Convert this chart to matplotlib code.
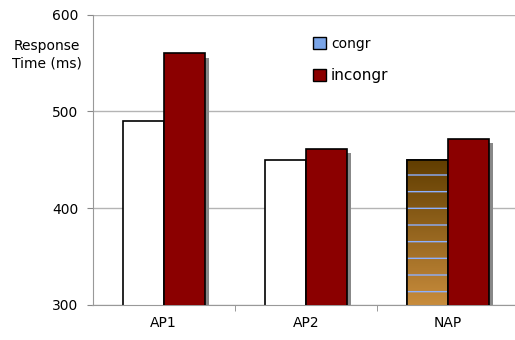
import numpy as np
import matplotlib
matplotlib.use("Agg")
import matplotlib.pyplot as plt
import matplotlib.patheffects as pe
from matplotlib.colors import LinearSegmentedColormap
from matplotlib.patches import Patch

# Data
categories = ['AP1', 'AP2', 'NAP']
congr = [490, 450, 450]
incongr = [560, 461, 472]
series_names = ['congr', 'incongr']

plt.rcParams['font.family'] = 'DejaVu Sans'

fig = plt.figure(figsize=(5.15, 3.4), dpi=100)
ax = fig.add_axes([92.5 / 515, 1 - 305 / 340, (519 - 92.5) / 515, (305 - 14.7) / 340])

x = np.arange(len(categories))
w = 0.288
shadow = [pe.SimplePatchShadow(offset=(3, -3), shadow_rgbFace='#888888', alpha=1.0), pe.Normal()]

bars_c = ax.bar(x - w / 2, congr, w, color='white', edgecolor='black', linewidth=1.2, zorder=2)
bars_i = ax.bar(x + w / 2, incongr, w, color='#8b0000', edgecolor='black', linewidth=1.2, zorder=3)
for b in list(bars_c) + list(bars_i):
    b.set_path_effects(shadow)

# gradient fill for the NAP congr bar
nap = bars_c[2]
brown = LinearSegmentedColormap.from_list('brown', ['#603d00', '#c88c3c'])
grad = np.linspace(0, 1, 256).reshape(-1, 1)
img = ax.imshow(grad, cmap=brown, aspect='auto', origin='upper',
                extent=(nap.get_x(), nap.get_x() + nap.get_width(), 300, nap.get_height()),
                zorder=2.1)
img.set_clip_path(nap)
ax.bar(nap.get_x() + nap.get_width() / 2, nap.get_height(), w, facecolor='none',
       edgecolor='#8cb0ff', linewidth=0, hatch='-', zorder=2.2)
ax.bar(nap.get_x() + nap.get_width() / 2, nap.get_height(), w, facecolor='none',
       edgecolor='black', linewidth=1.2, zorder=2.3)

ax.set_xlim(-0.5, 2.5)
ax.set_ylim(300, 600)
ax.set_yticks([300, 400, 500, 600])
ax.set_xticks(x)
ax.set_xticklabels(categories)
ax.set_xticks([0.5, 1.5], minor=True)
ax.tick_params(axis='x', which='major', length=0, pad=8, labelsize=10)
ax.tick_params(axis='x', which='minor', length=4, color='#888888', direction='out')
ax.tick_params(axis='y', length=4, color='#888888', pad=6, labelsize=10)

ax.yaxis.grid(True, color='#b4b4b4', linewidth=1)
ax.set_axisbelow(True)
for s in ['top', 'right']:
    ax.spines[s].set_visible(False)
for s in ['left', 'bottom']:
    ax.spines[s].set_color('#999999')

fig.text(47 / 515, 1 - 54.5 / 340, 'Response\nTime (ms)', ha='center', va='center',
         fontsize=10, linespacing=1.3)

handles = [Patch(facecolor='#7aa5e8', edgecolor='black'), Patch(facecolor='#8b0000', edgecolor='black')]
leg = fig.legend(handles, series_names, loc='upper left', bbox_to_anchor=(313 / 515, 1 - 37 / 340),
                 frameon=False, handlelength=0.9, handleheight=0.9, handletextpad=0.4,
                 labelspacing=1.2, borderpad=0, borderaxespad=0, fontsize=10)
leg.get_texts()[1].set_fontsize(11)

fig.savefig('out.png', dpi=100)
